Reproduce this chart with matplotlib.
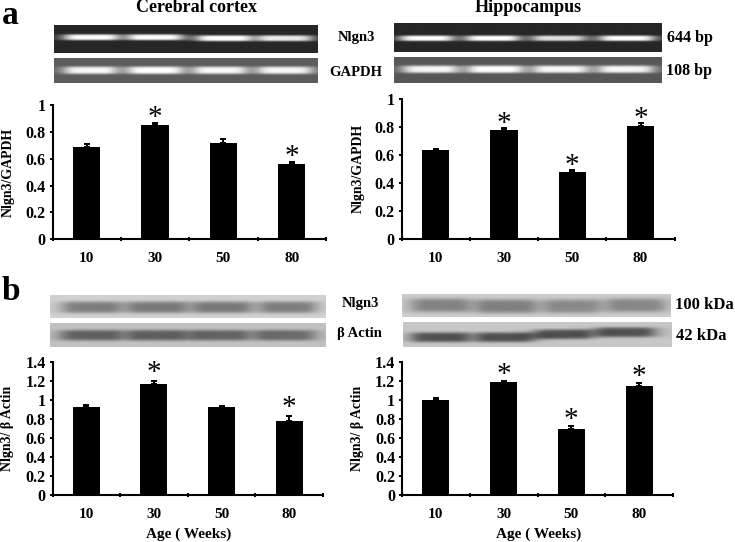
import numpy as np
import matplotlib
matplotlib.use("Agg")
import matplotlib.pyplot as plt

plt.rcParams['font.family'] = ['Liberation Serif', 'DejaVu Serif']
plt.rcParams['font.weight'] = 'bold'

W, H = 735, 542
weeks = ['10', '30', '50', '80']

ctx_nlgn3 = [0.69, 0.85, 0.72, 0.56]
ctx_nlgn3_err = [0.02, 0.02, 0.03, 0.015]
ctx_nlgn3_star = [False, True, False, True]
hip_nlgn3 = [0.635, 0.78, 0.48, 0.805]
hip_nlgn3_err = [0.01, 0.01, 0.01, 0.025]
hip_nlgn3_star = [False, True, True, True]
ctx_actin = [0.92, 1.165, 0.92, 0.775]
ctx_actin_err = [0.03, 0.03, 0.01, 0.05]
ctx_actin_star = [False, True, False, True]
hip_actin = [1.0, 1.19, 0.695, 1.15]
hip_actin_err = [0.02, 0.005, 0.03, 0.03]
hip_actin_star = [False, True, True, True]

yticks_a = [0, 0.2, 0.4, 0.6, 0.8, 1]
yticks_b = [0, 0.2, 0.4, 0.6, 0.8, 1, 1.2, 1.4]

fig = plt.figure(figsize=(W / 100, H / 100), dpi=100, facecolor='white')


def axes_px(x0, y0, x1, y1, **kw):
    return fig.add_axes([x0 / W, 1 - y1 / H, (x1 - x0) / W, (y1 - y0) / H], **kw)


def txt(x, y, s, size=10, **kw):
    kw.setdefault('ha', 'center')
    kw.setdefault('va', 'center')
    fig.text(x / W, 1 - y / H, s, fontsize=size, fontweight='bold', **kw)


def bars(box, values, errs, stars, ymax, yticks, ylabel, ylabel_x, ylabel_y, star_gap, xlabel=None):
    ax = axes_px(*box)
    xs = np.arange(4) + 0.5
    ax.bar(xs, values, width=0.4, color='black')
    ax.errorbar(xs, values, yerr=[[0] * 4, errs], fmt='none', ecolor='black',
                elinewidth=1.4, capsize=2.5, capthick=1.4)
    ax.set_xlim(0, 4)
    ax.set_ylim(0, ymax)
    for side in ('top', 'right'):
        ax.spines[side].set_visible(False)
    for side in ('left', 'bottom'):
        ax.spines[side].set_linewidth(1.5)
    ax.set_xticks(np.arange(5))
    ax.set_xticklabels([])
    ax.set_xticks(xs, minor=True)
    ax.set_xticklabels(weeks, minor=True)
    ax.tick_params(axis='x', which='major', length=3.5, width=1.4, direction='inout')
    ax.tick_params(axis='x', which='minor', length=0, pad=9, labelsize=11)
    ax.set_yticks(yticks)
    ax.set_yticklabels([f'{t:g}' for t in yticks], fontsize=11.5)
    ax.tick_params(axis='y', length=2.5, width=1.4, pad=2.5)
    for x, v, e, s in zip(xs, values, errs, stars):
        if s:
            ax.annotate('*', (x, v + e), xytext=(0, star_gap), textcoords='offset pixels',
                        ha='center', va='center', fontsize=21, fontweight='normal')
    txt(ylabel_x, ylabel_y, ylabel, size=10, rotation=90)
    if xlabel:
        txt((box[0] + box[2]) / 2 + 1, 534, xlabel, size=11)
    return ax


def gel(box, centers, rows, half, thick, levels, bg, band):
    """Band centres and rows are zoomed-reference readings along the strip."""
    ax = axes_px(*box)
    h = box[3] - box[1]
    w = box[2] - box[0]
    yy, xx = np.mgrid[0:h * 2, 0:w * 2] / 2.0
    img = np.full(yy.shape, float(bg))
    for c, r, hw, lev in zip(centers, rows, half, levels):
        prof_x = 1 / (1 + ((xx - c) / hw) ** 6)
        prof_y = np.exp(-((yy - r) / thick) ** 4)
        img += (band - bg) * lev * prof_x * prof_y
    ax.imshow(np.clip(img, 0, 1), cmap='gray', vmin=0, vmax=1, aspect='auto',
              extent=(0, w, h, 0), interpolation='bilinear')
    ax.axis('off')


# panel a gels
gel((54, 25, 318, 53), [37, 101, 170, 231], [12, 12, 13, 13], [27, 27, 27, 27], 3.0,
    [1, 1, 1, 0.9], 0.15, 1.0)
gel((54, 58, 318, 83), [36, 101, 166, 231], [12, 12, 12, 12], [26, 27, 26, 27], 3.8,
    [0.95, 1, 0.95, 0.95], 0.36, 1.0)
gel((394, 23, 661, 52), [32, 98, 164, 232], [15, 15, 15, 15], [26, 26, 26, 27], 2.8,
    [1, 1, 0.85, 1], 0.15, 1.0)
gel((394, 57, 661, 83), [36, 101, 166, 231], [12, 12, 12, 12], [27, 27, 27, 27], 3.8,
    [0.95, 1, 0.95, 0.95], 0.34, 1.0)
# panel b gels
gel((50, 295, 326, 318), [41, 107, 172, 238], [12, 12, 12, 12], [29, 30, 29, 28], 6.0,
    [0.95, 1, 1, 0.95], 0.82, 0.48)
gel((50, 323, 326, 347), [41, 107, 169, 235], [12, 12, 12, 12], [31, 30, 30, 30], 5.5,
    [1, 1, 0.95, 0.9], 0.76, 0.38)
gel((402, 294, 671, 317), [38, 104, 170, 234], [11, 12, 12, 11], [29, 30, 28, 29], 7.0,
    [0.95, 1, 0.85, 0.9], 0.80, 0.50)
gel((403, 322, 672, 347), [37, 102, 160, 222], [15, 15, 12, 10], [29, 29, 28, 30], 5.0,
    [1, 1, 1, 1], 0.78, 0.32)

# bar panels
bars((52.5, 105.3, 326, 239), ctx_nlgn3, ctx_nlgn3_err, ctx_nlgn3_star, 1, yticks_a,
     'Nlgn3/GAPDH', 8, 172, 5)
bars((401.7, 98.7, 674.7, 239), hip_nlgn3, hip_nlgn3_err, hip_nlgn3_star, 1, yticks_a,
     'Nlgn3/GAPDH', 358, 168, 4)
bars((52.5, 361.7, 323, 495), ctx_actin, ctx_actin_err, ctx_actin_star, 1.4, yticks_b,
     'Nlgn3/ β Actin', 8, 428, 8, xlabel='Age ( Weeks)')
bars((402, 361.7, 673, 495), hip_actin, hip_actin_err, hip_actin_star, 1.4, yticks_b,
     'Nlgn3/ β Actin', 358, 428, 6, xlabel='Age ( Weeks)')

# labels
txt(197, 8, 'Cerebral cortex', size=13)
txt(528, 8, 'Hippocampus', size=13)
txt(10, 16, 'a', size=24)
txt(11, 291, 'b', size=24)
txt(356, 38, 'Nlgn3', size=10.5)
txt(356, 72, 'GAPDH', size=10.5)
txt(690, 38, '644 bp', size=11.5)
txt(689, 71, '108 bp', size=11.5)
txt(360, 303, 'Nlgn3', size=10.5)
txt(359, 334, 'β Actin', size=10.5)
txt(704, 305, '100 kDa', size=12)
txt(701, 336, '42 kDa', size=12)

fig.savefig('out.png', dpi=100, facecolor='white')
